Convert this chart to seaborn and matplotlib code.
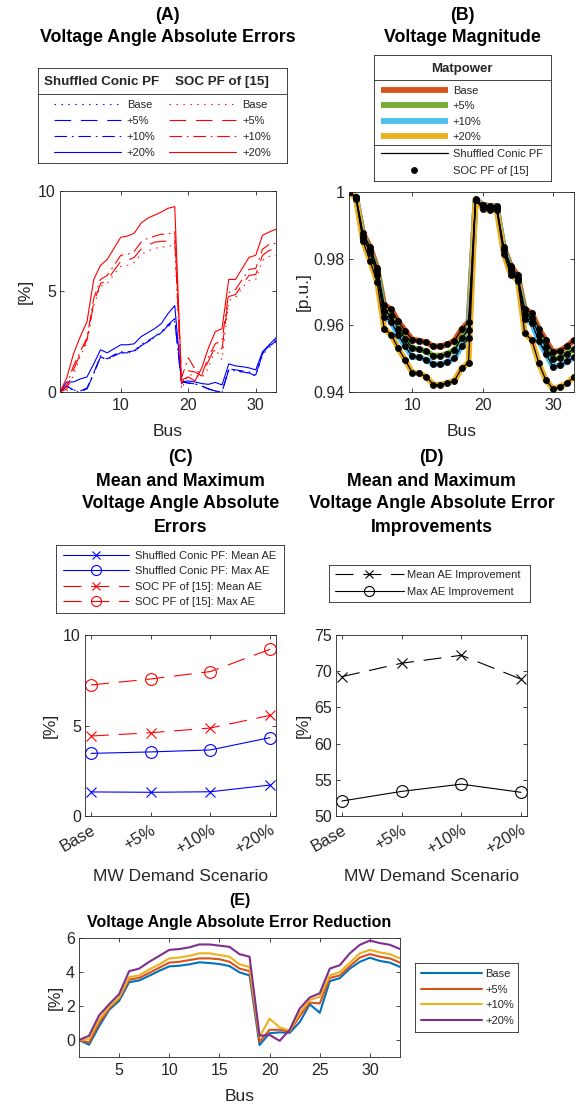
import matplotlib
matplotlib.use("Agg")
import matplotlib.pyplot as plt
import seaborn as sns

# ---------------- data ----------------
bus = list(range(1, 34))
scenarios = ["Base", "+5%", "+10%", "+20%"]
scen_pos = [1, 2, 3, 4]

# (A) voltage angle absolute errors [%]
conic_base = [0, 0.3, 0.05, 0.0, 0.15, 0.9, 1.75, 1.6, 1.8, 1.95, 1.95, 2.0, 2.3, 2.5, 2.7, 2.95, 3.25, 3.5,
              0.45, 0.45, 0.4, 0.3, 0.15, 0.05, 0.0, 1.1, 1.05, 1.0, 0.95, 0.8, 1.85, 2.2, 2.5]
conic_5 = [0, 0.3, 0.1, 0.05, 0.15, 0.9, 1.75, 1.6, 1.8, 1.95, 1.95, 2.0, 2.3, 2.5, 2.7, 2.95, 3.3, 3.55,
           0.5, 0.45, 0.4, 0.3, 0.15, 0.05, 0.0, 1.1, 1.05, 1.0, 0.95, 0.8, 1.9, 2.25, 2.55]
conic_10 = [0, 0.3, 0.1, 0.05, 0.2, 0.95, 1.8, 1.65, 1.85, 2.0, 2.0, 2.05, 2.35, 2.55, 2.75, 3.0, 3.35, 3.65,
            0.5, 0.45, 0.4, 0.3, 0.15, 0.05, 0.0, 1.15, 1.1, 1.05, 1.0, 0.85, 1.95, 2.3, 2.6]
conic_20 = [0, 0.5, 0.5, 0.65, 0.75, 1.4, 2.1, 1.95, 2.15, 2.35, 2.35, 2.4, 2.75, 2.95, 3.15, 3.4, 3.9, 4.3,
            0.5, 0.55, 0.5, 0.42, 0.38, 0.48, 0.35, 1.4, 1.3, 1.26, 1.2, 1.1, 2.0, 2.35, 2.7]
soc_base = [0, 0.05, 0.85, 1.8, 2.45, 4.3, 5.25, 5.4, 5.85, 6.25, 6.3, 6.45, 6.85, 7.0, 7.15, 7.2, 7.25, 7.3,
            0.15, 0.85, 0.85, 0.7, 1.2, 2.15, 1.6, 4.55, 4.7, 5.2, 5.55, 5.6, 6.55, 6.75, 6.8]
soc_5 = [0, 0.15, 1.1, 1.9, 2.6, 4.45, 5.4, 5.55, 6.05, 6.5, 6.55, 6.7, 7.1, 7.3, 7.45, 7.5, 7.5, 7.6,
         0.4, 1.05, 1.0, 0.8, 1.55, 2.25, 2.15, 4.75, 4.85, 5.35, 5.8, 5.85, 6.8, 7.05, 7.1]
soc_10 = [0, 0.35, 1.3, 2.0, 2.7, 4.65, 5.6, 5.8, 6.3, 6.8, 6.85, 7.0, 7.45, 7.65, 7.75, 7.85, 7.85, 8.0,
          0.7, 1.7, 1.15, 0.85, 1.75, 2.4, 2.55, 4.95, 5.1, 5.6, 6.1, 6.15, 7.1, 7.35, 7.4]
soc_20 = [0, 0.7, 1.9, 2.75, 3.5, 5.6, 6.3, 6.6, 7.15, 7.7, 7.76, 7.9, 8.4, 8.65, 8.8, 8.95, 9.14, 9.22,
          0.6, 0.75, 0.55, 1.2, 2.2, 3.0, 3.15, 5.6, 5.6, 6.15, 6.7, 6.8, 7.8, 7.96, 8.1]

# (B) voltage magnitude [p.u.]
vm_base = [1.0, 0.9985, 0.9876, 0.9835, 0.9773, 0.9661, 0.9648, 0.9612, 0.9584, 0.9557, 0.9554, 0.9549,
           0.9537, 0.9537, 0.9543, 0.9554, 0.9588, 0.9610, 0.9978, 0.9962, 0.9958, 0.9957, 0.9835, 0.9779,
           0.9750, 0.9648, 0.9637, 0.9590, 0.9555, 0.9520, 0.9524, 0.9537, 0.9556]
vm_5 = [1.0, 0.9984, 0.9868, 0.9826, 0.9762, 0.9643, 0.9629, 0.9590, 0.9560, 0.9531, 0.9528, 0.9522,
        0.9509, 0.9509, 0.9515, 0.9526, 0.9562, 0.9586, 0.9977, 0.9960, 0.9956, 0.9955, 0.9830, 0.9771,
        0.9741, 0.9634, 0.9622, 0.9572, 0.9535, 0.9498, 0.9503, 0.9515, 0.9529]
vm_10 = [1.0, 0.9983, 0.9862, 0.9818, 0.9752, 0.9626, 0.9611, 0.9570, 0.9537, 0.9507, 0.9504, 0.9497,
         0.9483, 0.9483, 0.9490, 0.9501, 0.9538, 0.9561, 0.9977, 0.9958, 0.9954, 0.9953, 0.9825, 0.9764,
         0.9733, 0.9619, 0.9607, 0.9554, 0.9515, 0.9476, 0.9480, 0.9492, 0.9504]
vm_20 = [1.0, 0.9980, 0.9852, 0.9793, 0.9730, 0.9590, 0.9572, 0.9531, 0.9496, 0.9458, 0.9456, 0.9446,
         0.9422, 0.9422, 0.9427, 0.9434, 0.9471, 0.9488, 0.9976, 0.9950, 0.9946, 0.9947, 0.9815, 0.9752,
         0.9737, 0.9576, 0.9556, 0.9486, 0.9436, 0.9410, 0.9416, 0.9426, 0.9446]

# (C) mean / max absolute errors [%]
conic_mean = [1.33, 1.31, 1.34, 1.71]
conic_max = [3.46, 3.54, 3.65, 4.33]
soc_mean = [4.42, 4.60, 4.86, 5.56]
soc_max = [7.24, 7.57, 7.98, 9.21]

# (D) improvements [%]
mean_impr = [69.25, 71.1, 72.2, 68.9]
max_impr = [52.07, 53.4, 54.4, 53.27]

# (E) error reduction [%]
red_base = [0, -0.28, 0.8, 1.77, 2.3, 3.4, 3.5, 3.78, 4.07, 4.33, 4.37, 4.45, 4.57, 4.53, 4.47, 4.35, 3.98, 3.8,
            -0.3, 0.4, 0.45, 0.42, 1.05, 2.1, 1.6, 3.46, 3.64, 4.2, 4.6, 4.84, 4.65, 4.55, 4.3]
red_5 = [0, -0.15, 1.0, 1.85, 2.45, 3.55, 3.65, 3.95, 4.25, 4.55, 4.6, 4.7, 4.8, 4.8, 4.75, 4.6, 4.2, 4.05,
         -0.1, 0.6, 0.6, 0.5, 1.4, 2.2, 2.15, 3.65, 3.8, 4.35, 4.85, 5.05, 4.9, 4.8, 4.55]
red_10 = [0, 0.05, 1.2, 1.95, 2.5, 3.7, 3.8, 4.15, 4.45, 4.8, 4.85, 4.95, 5.1, 5.1, 5.0, 4.9, 4.45, 4.3,
          0.2, 1.25, 0.75, 0.55, 1.6, 2.35, 2.55, 3.8, 4.0, 4.55, 5.1, 5.3, 5.15, 5.05, 4.8]
red_20 = [0, 0.25, 1.45, 2.1, 2.7, 4.05, 4.2, 4.6, 4.95, 5.3, 5.35, 5.45, 5.62, 5.62, 5.55, 5.48, 5.05, 4.9,
          0.25, 0.3, -0.05, 0.6, 1.85, 2.5, 2.75, 4.2, 4.4, 5.1, 5.6, 5.85, 5.7, 5.6, 5.35]

# ---------------- style ----------------
W, H, DPI = 585, 1108, 100
sns.set_theme(style="ticks")
GRAY = "#262626"
plt.rcParams.update({
    "font.family": ["Liberation Sans", "DejaVu Sans"],
    "axes.edgecolor": GRAY, "axes.linewidth": 0.6,
    "xtick.direction": "in", "ytick.direction": "in",
    "xtick.top": True, "ytick.right": True,
    "xtick.major.size": 3.2, "ytick.major.size": 3.2,
    "xtick.major.width": 0.6, "ytick.major.width": 0.6,
    "xtick.color": GRAY, "ytick.color": GRAY,
    "xtick.labelsize": 11.5, "ytick.labelsize": 11.5,
    "xtick.major.pad": 4.5, "ytick.major.pad": 3,
    "axes.labelsize": 12.5, "axes.labelcolor": GRAY,
    "lines.scale_dashes": False,
    "legend.fontsize": 8,
})

fig = plt.figure(figsize=(W / DPI, H / DPI), dpi=DPI)


def rect(l, t, r, b):
    return [l / W, 1 - b / H, (r - l) / W, (b - t) / H]


def frame_axes(l, t, r, b):
    a = fig.add_axes(rect(l, t, r, b))
    a.set_xlim(0, 1)
    a.set_ylim(0, 1)
    a.set_xticks([])
    a.set_yticks([])
    for s in a.spines.values():
        s.set_color(GRAY)
        s.set_linewidth(0.6)
    return a


def title(x, ys, lines, size=12.8):
    for y, s in zip(ys, lines):
        fig.text(x / W, 1 - y / H, s, ha="center", va="center", fontsize=size,
                 fontweight="bold", color="black")


def labels(ax, xl, yl, xpos, ypos):
    ax.set_xlabel(xl)
    ax.set_ylabel(yl)
    ax.xaxis.set_label_coords(0.5, xpos)
    ax.xaxis.label.set_verticalalignment("center")
    ax.yaxis.set_label_coords(ypos, 0.5)
    ax.yaxis.label.set_verticalalignment("center")


LS_DOT = (0, (1, 4))
LS_DASH = (0, (12, 7))
LS_DASHDOT = (0, (9, 3.5, 1.2, 3.5))
styles = [LS_DOT, LS_DASH, LS_DASHDOT, "-"]

# ---------------- (A) ----------------
axA = fig.add_axes(rect(60, 191, 276, 392))
for vals, ls, lab in zip([conic_base, conic_5, conic_10, conic_20], styles, scenarios):
    sns.lineplot(x=bus, y=vals, ax=axA, color="#0000FF", linestyle=ls, linewidth=0.8,
                 label=lab, legend=False, errorbar=None)
for vals, ls, lab in zip([soc_base, soc_5, soc_10, soc_20], styles, scenarios):
    sns.lineplot(x=bus, y=vals, ax=axA, color="#FF0000", linestyle=ls, linewidth=0.8,
                 label=lab, legend=False, errorbar=None)
axA.set_xlim(1, 33)
axA.set_ylim(0, 10)
axA.set_xticks([10, 20, 30])
axA.set_yticks([0, 5, 10])
labels(axA, "Bus", "[%]", -0.199, -0.162)
title(167.5, [15, 38], ["(A)", "Voltage Angle Absolute Errors"])

legA = frame_axes(38, 68, 287, 163)
legA.axhline(0.726, color=GRAY, lw=0.6)
legA.text(0.256, 0.853, "Shuffled Conic PF", ha="center", va="center", fontsize=9.6, fontweight="bold")
legA.text(0.738, 0.853, "SOC PF of [15]", ha="center", va="center", fontsize=9.6, fontweight="bold")
hA, lA = axA.get_legend_handles_labels()
legA.legend(hA, lA, ncol=2, loc="center", bbox_to_anchor=(0.5, 0.355), frameon=False,
            borderpad=0, borderaxespad=0, handlelength=6, handletextpad=0.55,
            columnspacing=1.25, labelspacing=0.54)

# ---------------- (B) ----------------
axB = fig.add_axes(rect(349, 192, 574, 392))
vm_all = [vm_base, vm_5, vm_10, vm_20]
mp_colors = ["#D95319", "#77AC30", "#4DBEEE", "#EDB120"]
for vals, c, lab in zip(vm_all, mp_colors, scenarios):
    sns.lineplot(x=bus, y=vals, ax=axB, color=c, linewidth=4.2, label=lab, legend=False,
                 errorbar=None, solid_joinstyle="round", solid_capstyle="butt")
for i, vals in enumerate(vm_all):
    sns.lineplot(x=bus, y=vals, ax=axB, color="black", linewidth=0.9,
                 label="Shuffled Conic PF" if i == 0 else "_nolegend_", legend=False, errorbar=None)
for i, vals in enumerate(vm_all):
    sns.lineplot(x=bus, y=vals, ax=axB, color="black", linestyle="None", marker="o", markersize=4.4,
                 markeredgecolor="black", markerfacecolor="black", markeredgewidth=0.5,
                 label="SOC PF of [15]" if i == 0 else "_nolegend_", legend=False, errorbar=None)
axB.set_xlim(1, 33)
axB.set_ylim(0.94, 1.0)
axB.set_xticks([10, 20, 30])
axB.set_yticks([0.94, 0.96, 0.98, 1.0])
axB.set_yticklabels(["0.94", "0.96", "0.98", "1"])
labels(axB, "Bus", "[p.u.]", -0.2, -0.204)
title(462, [15, 38], ["(B)", "Voltage Magnitude"])

legB = frame_axes(374, 55, 551, 181)
legB.axhline(0.802, color=GRAY, lw=0.6)
legB.axhline(0.286, color=GRAY, lw=0.6)
legB.text(0.497, 0.889, "Matpower", ha="center", va="center", fontsize=9.5, fontweight="bold")
hB, lB = axB.get_legend_handles_labels()
l1 = legB.legend(hB[:4], lB[:4], loc="center left", bbox_to_anchor=(0.04, 0.532), frameon=False,
                 borderpad=0, borderaxespad=0, handlelength=6, handletextpad=0.45, labelspacing=0.5)
legB.add_artist(l1)
legB.legend(hB[4:], lB[4:], loc="center left", bbox_to_anchor=(0.04, 0.148), frameon=False,
            borderpad=0, borderaxespad=0, handlelength=6, handletextpad=0.45, labelspacing=0.6,
            numpoints=1)

# ---------------- (C) ----------------
axC = fig.add_axes(rect(85, 635, 276, 816))
LS_CD = (0, (13, 7))
common = dict(linewidth=0.8, legend=False, errorbar=None, markeredgewidth=0.8)
sns.lineplot(x=scen_pos, y=conic_mean, ax=axC, color="#0000FF", marker="x", markersize=7,
             markeredgecolor="#0000FF", label="Shuffled Conic PF: Mean AE", **common)
sns.lineplot(x=scen_pos, y=conic_max, ax=axC, color="#0000FF", marker="o", markersize=8.5,
             markeredgecolor="#0000FF", markerfacecolor="none", label="Shuffled Conic PF: Max AE", **common)
sns.lineplot(x=scen_pos, y=soc_mean, ax=axC, color="#FF0000", marker="x", markersize=7, linestyle=LS_CD,
             markeredgecolor="#FF0000", label="SOC PF of [15]: Mean AE", **common)
sns.lineplot(x=scen_pos, y=soc_max, ax=axC, color="#FF0000", marker="o", markersize=8.5, linestyle=LS_CD,
             markeredgecolor="#FF0000", markerfacecolor="none", label="SOC PF of [15]: Max AE", **common)
axC.set_xlim(0.9, 4.1)
axC.set_ylim(0, 10)
axC.set_yticks([0, 5, 10])
axC.set_xticks(scen_pos)
axC.set_xticklabels(scenarios, rotation=30, ha="right", rotation_mode="anchor", fontsize=12)
labels(axC, "MW Demand Scenario", "[%]", -0.335, -0.183)
title(180.5, [458, 481.7, 504, 527.3], ["(C)", "Mean and Maximum", "Voltage Angle Absolute", "Errors"])

legC = frame_axes(56, 545, 284, 613)
hC, lC = axC.get_legend_handles_labels()
legC.legend(hC, lC, loc="center left", bbox_to_anchor=(0.031, 0.5), frameon=False, borderpad=0,
            borderaxespad=0, handlelength=5.95, handletextpad=0.54, labelspacing=0.5,
            numpoints=1, markerscale=0.85)

# ---------------- (D) ----------------
axD = fig.add_axes(rect(336, 635, 527, 816))
sns.lineplot(x=scen_pos, y=mean_impr, ax=axD, color="black", marker="x", markersize=7, linestyle=LS_CD,
             markeredgecolor="black", label="Mean AE Improvement", **common)
sns.lineplot(x=scen_pos, y=max_impr, ax=axD, color="black", marker="o", markersize=8.5,
             markeredgecolor="black", markerfacecolor="none", label="Max AE Improvement", **common)
axD.set_xlim(0.9, 4.1)
axD.set_ylim(50, 75)
axD.set_yticks([50, 55, 60, 65, 70, 75])
axD.set_xticks(scen_pos)
axD.set_xticklabels(scenarios, rotation=30, ha="right", rotation_mode="anchor", fontsize=12)
labels(axD, "MW Demand Scenario", "[%]", -0.335, -0.173)
title(431.5, [458, 481.7, 504, 527.3], ["(D)", "Mean and Maximum", "Voltage Angle Absolute Error",
                                        "Improvements"])

legD = frame_axes(329, 565, 530, 602)
hD, lD = axD.get_legend_handles_labels()
legD.legend(hD, lD, loc="center left", bbox_to_anchor=(0.03, 0.5), frameon=False, borderpad=0,
            borderaxespad=0, handlelength=6.2, handletextpad=0.27, labelspacing=0.62,
            numpoints=1, markerscale=0.85)

# ---------------- (E) ----------------
axE = fig.add_axes(rect(79, 938, 400, 1057))
e_colors = ["#0072BD", "#D95319", "#EDB120", "#7E2F8E"]
for vals, c, lab in zip([red_base, red_5, red_10, red_20], e_colors, scenarios):
    sns.lineplot(x=bus, y=vals, ax=axE, color=c, linewidth=1.5, label=lab, legend=False, errorbar=None)
axE.set_xlim(1, 33)
axE.set_ylim(-1, 6)
axE.set_xticks([5, 10, 15, 20, 25, 30])
axE.set_yticks([0, 2, 4, 6])
labels(axE, "Bus", "[%]", -0.336, -0.075)
title(239.5, [900, 922], ["(E)", "Voltage Angle Absolute Error Reduction"], size=11.5)

legE = frame_axes(415, 963, 518, 1032)
hE, lE = axE.get_legend_handles_labels()
legE.legend(hE, lE, loc="center left", bbox_to_anchor=(0.058, 0.5), frameon=False, borderpad=0,
            borderaxespad=0, handlelength=5.5, handletextpad=0.27, labelspacing=0.51)

fig.savefig("out.png", dpi=DPI)
